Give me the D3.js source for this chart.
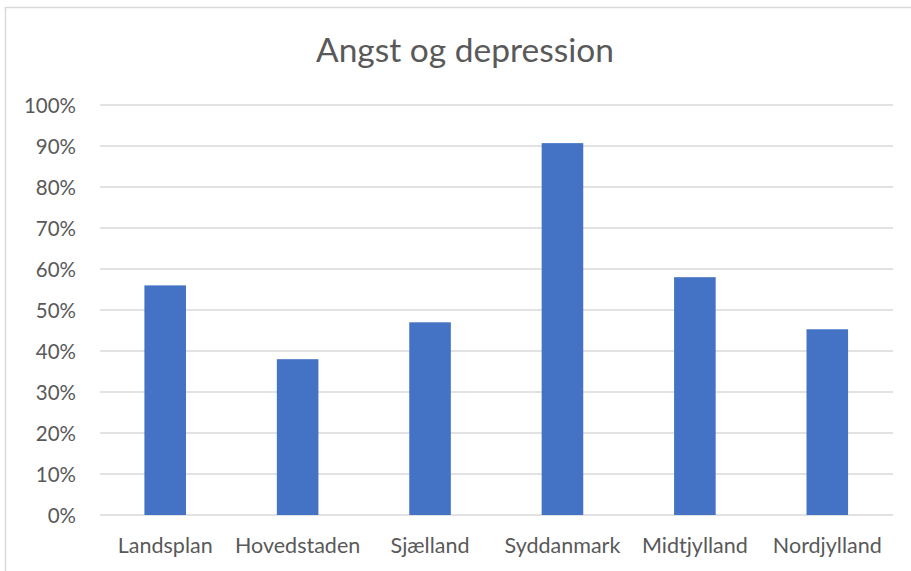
<!DOCTYPE html>
<html><head><meta charset="utf-8">
<script src="https://cdn.jsdelivr.net/npm/d3@7"></script>
<style>body{margin:0;background:#fff}svg{display:block}</style>
</head><body><svg id="c" width="911" height="571"></svg>
<script>
const title = "Angst og depression";
const categories = ["Landsplan","Hovedstaden","Sjælland","Syddanmark","Midtjylland","Nordjylland"];
const values = [0.56, 0.38, 0.47, 0.907, 0.58, 0.453];
const yTicks = [0,0.1,0.2,0.3,0.4,0.5,0.6,0.7,0.8,0.9,1.0];

const svg = d3.select("#c");
const font = "Lato, 'Open Sans', sans-serif";
const textColor = "#595959";

svg.append("rect").attr("x",5.5).attr("y",7.5).attr("width",920).attr("height",580)
  .attr("fill","#fff").attr("stroke","#d9d9d9").attr("stroke-width",1.5);

const x = d3.scaleBand().domain(categories).range([99, 893.5]).padding(0);
const y = d3.scaleLinear().domain([0,1]).range([515,105]);

svg.append("text").attr("x",465).attr("y",62).attr("text-anchor","middle")
  .attr("font-family",font).attr("font-size",33.5).attr("fill",textColor).text(title);

const grid = svg.append("g");
grid.selectAll("line").data(yTicks).join("line")
  .attr("x1",100).attr("x2",893).attr("y1",d=>y(d)).attr("y2",d=>y(d))
  .attr("stroke","#d9d9d9").attr("stroke-width",1.5);

const yAxis = d3.axisLeft(y).tickValues(yTicks).tickFormat(d3.format(".0%")).tickSize(0).tickPadding(0);
const ya = svg.append("g").attr("transform","translate(76,0)").call(yAxis);
ya.select(".domain").remove();
ya.selectAll("text").attr("font-family",font).attr("font-size",20.5).attr("fill",textColor).attr("dy","0.35em");

const barFrac = 0.314;
svg.append("g").selectAll("rect").data(categories).join("rect")
  .attr("x",(d)=>x(d)+x.bandwidth()*(1-barFrac)/2)
  .attr("width",x.bandwidth()*barFrac)
  .attr("y",(d,i)=>y(values[i]))
  .attr("height",(d,i)=>y(0)-y(values[i]))
  .attr("fill","#4472C4");

const xAxis = d3.axisBottom(x).tickSize(0).tickPadding(0);
const xa = svg.append("g").attr("transform","translate(0,553)").call(xAxis);
xa.select(".domain").remove();
xa.selectAll("text").attr("y",0).attr("font-family",font).attr("font-size",21.5).attr("fill",textColor).attr("dy","0");
</script></body></html>
